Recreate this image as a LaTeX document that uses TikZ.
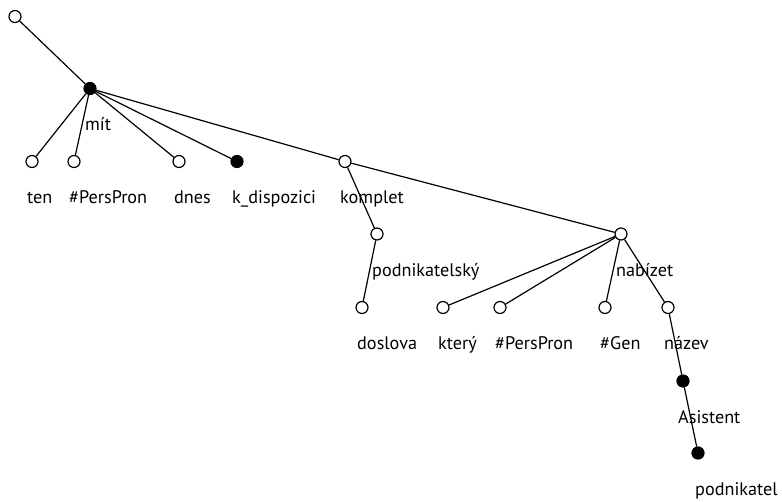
\documentclass[tikz,border=0pt]{standalone}
\usepackage{fontspec}
\setmainfont{PT Sans}
\begin{document}
\begin{tikzpicture}[x=1pt,y=-1pt,
  every node/.style={inner sep=0pt},
  opn/.style={circle,draw=black,fill=white,line width=1.2pt,minimum size=12pt},
  fil/.style={circle,draw=black,fill=black,line width=1.2pt,minimum size=12pt},
  lbl/.style={anchor=base west,font=\fontsize{18.2}{20}\selectfont},
  edge/.style={line width=1.2pt}]
\useasboundingbox (0,0) rectangle (782,501);
% nodes
\node[opn] (root) at (15,16.5) {};
\node[fil] (mit) at (90,88.5) {};
\node[opn] (ten) at (32,161.5) {};
\node[opn] (pp1) at (74,161.5) {};
\node[opn] (dnes) at (179,161.5) {};
\node[fil] (kdisp) at (237,161.5) {};
\node[opn] (komplet) at (345,161.5) {};
\node[opn] (podn) at (377,234) {};
\node[opn] (nabizet) at (621,234) {};
\node[opn] (doslova) at (362,307.5) {};
\node[opn] (ktery) at (443,307.5) {};
\node[opn] (pp2) at (500,307.5) {};
\node[opn] (gen) at (605,307.5) {};
\node[opn] (nazev) at (668,307.5) {};
\node[fil] (asist) at (683,381) {};
\node[fil] (podnikatel) at (698,453) {};
% edges
\draw[edge] (root) -- (mit);
\draw[edge] (mit) -- (ten);
\draw[edge] (mit) -- (pp1);
\draw[edge] (mit) -- (dnes);
\draw[edge] (mit) -- (kdisp);
\draw[edge] (mit) -- (komplet);
\draw[edge] (komplet) -- (nabizet);
\draw[edge] (komplet) -- (podn);
\draw[edge] (podn) -- (doslova);
\draw[edge] (nabizet) -- (ktery);
\draw[edge] (nabizet) -- (pp2);
\draw[edge] (nabizet) -- (gen);
\draw[edge] (nabizet) -- (nazev);
\draw[edge] (nazev) -- (asist);
\draw[edge] (asist) -- (podnikatel);
% labels
\node[lbl] (lmit) at (85,130.5) {mít};
\node[lbl] (lten) at (27,203.5) {ten};
\node[lbl] (lpp1) at (69,203.5) {\#PersPron};
\node[lbl] (ldnes) at (174,203.5) {dnes};
\node[lbl] (lkdisp) at (232,203.5) {k\_dispozici};
\node[lbl] (lkomplet) at (340,203.5) {komplet};
\node[lbl] (lpodn) at (372,276) {podnikatelský};
\node[lbl] (lnabizet) at (616,276) {nabízet};
\node[lbl] (ldoslova) at (357,349.5) {doslova};
\node[lbl] (lktery) at (438,349.5) {který};
\node[lbl] (lpp2) at (495,349.5) {\#PersPron};
\node[lbl] (lgen) at (600,349.5) {\#Gen};
\node[lbl] (lnazev) at (664,349.5) {název};
\node[lbl] (lasist) at (678,423) {Asistent};
\node[lbl] (lpodnikatel) at (695,495) {podnikatel};
\end{tikzpicture}
\end{document}
